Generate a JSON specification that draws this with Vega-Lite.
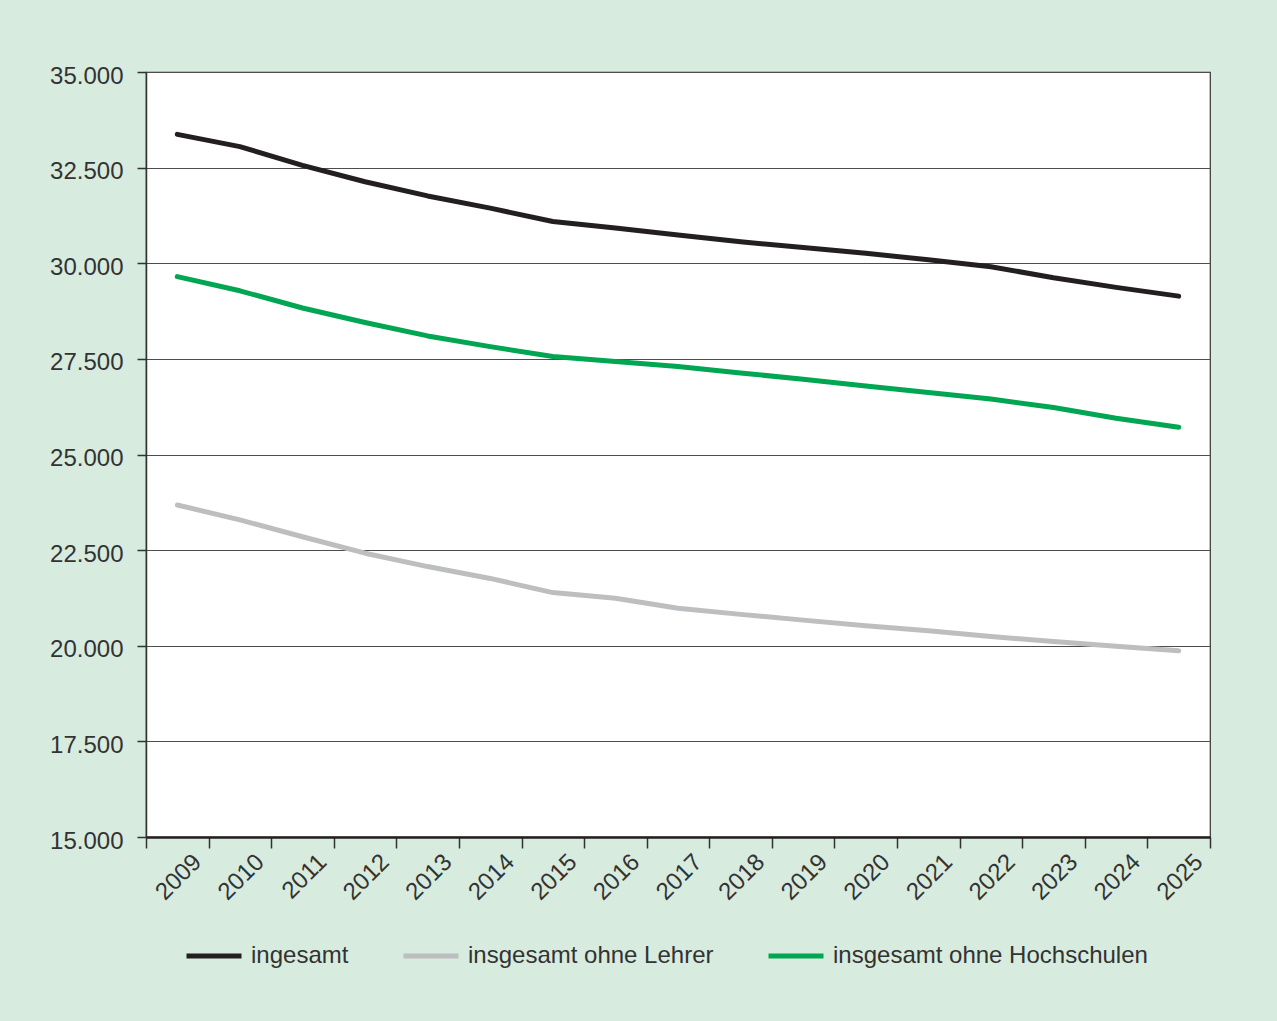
{
  "$schema": "https://vega.github.io/schema/vega-lite/v6.json",
  "width": 1064,
  "height": 765,
  "autosize": {"type": "none"},
  "padding": {"left": 146, "top": 72, "right": 67, "bottom": 184},
  "background": "#d8ebdf",
  "config": {
    "locale": {"number": {"decimal": ",", "thousands": ".", "grouping": [3], "currency": ["", " €"]}},
    "font": "Liberation Sans",
    "view": {"fill": "white", "stroke": "#333333", "strokeWidth": 1.2}
  },
  "data": {
    "values": [
      {"Jahr": "2009", "Reihe": "ingesamt", "Wert": 33370},
      {"Jahr": "2010", "Reihe": "ingesamt", "Wert": 33050},
      {"Jahr": "2011", "Reihe": "ingesamt", "Wert": 32560},
      {"Jahr": "2012", "Reihe": "ingesamt", "Wert": 32130},
      {"Jahr": "2013", "Reihe": "ingesamt", "Wert": 31760},
      {"Jahr": "2014", "Reihe": "ingesamt", "Wert": 31440},
      {"Jahr": "2015", "Reihe": "ingesamt", "Wert": 31090},
      {"Jahr": "2016", "Reihe": "ingesamt", "Wert": 30920},
      {"Jahr": "2017", "Reihe": "ingesamt", "Wert": 30740},
      {"Jahr": "2018", "Reihe": "ingesamt", "Wert": 30560},
      {"Jahr": "2019", "Reihe": "ingesamt", "Wert": 30410},
      {"Jahr": "2020", "Reihe": "ingesamt", "Wert": 30260},
      {"Jahr": "2021", "Reihe": "ingesamt", "Wert": 30090},
      {"Jahr": "2022", "Reihe": "ingesamt", "Wert": 29910},
      {"Jahr": "2023", "Reihe": "ingesamt", "Wert": 29620},
      {"Jahr": "2024", "Reihe": "ingesamt", "Wert": 29370},
      {"Jahr": "2025", "Reihe": "ingesamt", "Wert": 29140},
      {"Jahr": "2009", "Reihe": "insgesamt ohne Lehrer", "Wert": 23680},
      {"Jahr": "2010", "Reihe": "insgesamt ohne Lehrer", "Wert": 23290},
      {"Jahr": "2011", "Reihe": "insgesamt ohne Lehrer", "Wert": 22850},
      {"Jahr": "2012", "Reihe": "insgesamt ohne Lehrer", "Wert": 22420},
      {"Jahr": "2013", "Reihe": "insgesamt ohne Lehrer", "Wert": 22070},
      {"Jahr": "2014", "Reihe": "insgesamt ohne Lehrer", "Wert": 21760},
      {"Jahr": "2015", "Reihe": "insgesamt ohne Lehrer", "Wert": 21390},
      {"Jahr": "2016", "Reihe": "insgesamt ohne Lehrer", "Wert": 21240},
      {"Jahr": "2017", "Reihe": "insgesamt ohne Lehrer", "Wert": 20980},
      {"Jahr": "2018", "Reihe": "insgesamt ohne Lehrer", "Wert": 20820},
      {"Jahr": "2019", "Reihe": "insgesamt ohne Lehrer", "Wert": 20670},
      {"Jahr": "2020", "Reihe": "insgesamt ohne Lehrer", "Wert": 20520},
      {"Jahr": "2021", "Reihe": "insgesamt ohne Lehrer", "Wert": 20390},
      {"Jahr": "2022", "Reihe": "insgesamt ohne Lehrer", "Wert": 20240},
      {"Jahr": "2023", "Reihe": "insgesamt ohne Lehrer", "Wert": 20110},
      {"Jahr": "2024", "Reihe": "insgesamt ohne Lehrer", "Wert": 19990},
      {"Jahr": "2025", "Reihe": "insgesamt ohne Lehrer", "Wert": 19870},
      {"Jahr": "2009", "Reihe": "insgesamt ohne Hochschulen", "Wert": 29650},
      {"Jahr": "2010", "Reihe": "insgesamt ohne Hochschulen", "Wert": 29280},
      {"Jahr": "2011", "Reihe": "insgesamt ohne Hochschulen", "Wert": 28830},
      {"Jahr": "2012", "Reihe": "insgesamt ohne Hochschulen", "Wert": 28450},
      {"Jahr": "2013", "Reihe": "insgesamt ohne Hochschulen", "Wert": 28100},
      {"Jahr": "2014", "Reihe": "insgesamt ohne Hochschulen", "Wert": 27820},
      {"Jahr": "2015", "Reihe": "insgesamt ohne Hochschulen", "Wert": 27560},
      {"Jahr": "2016", "Reihe": "insgesamt ohne Hochschulen", "Wert": 27430},
      {"Jahr": "2017", "Reihe": "insgesamt ohne Hochschulen", "Wert": 27300},
      {"Jahr": "2018", "Reihe": "insgesamt ohne Hochschulen", "Wert": 27130},
      {"Jahr": "2019", "Reihe": "insgesamt ohne Hochschulen", "Wert": 26970},
      {"Jahr": "2020", "Reihe": "insgesamt ohne Hochschulen", "Wert": 26790},
      {"Jahr": "2021", "Reihe": "insgesamt ohne Hochschulen", "Wert": 26620},
      {"Jahr": "2022", "Reihe": "insgesamt ohne Hochschulen", "Wert": 26450},
      {"Jahr": "2023", "Reihe": "insgesamt ohne Hochschulen", "Wert": 26230},
      {"Jahr": "2024", "Reihe": "insgesamt ohne Hochschulen", "Wert": 25950},
      {"Jahr": "2025", "Reihe": "insgesamt ohne Hochschulen", "Wert": 25710}
    ]
  },
  "mark": {"type": "line", "strokeWidth": 5, "strokeCap": "round", "strokeJoin": "round"},
  "encoding": {
    "x": {
      "field": "Jahr",
      "type": "ordinal",
      "bandPosition": 0.5,
      "scale": {"type": "band", "paddingInner": 0, "paddingOuter": 0},
      "axis": {
        "title": null,
        "tickBand": "extent",
        "grid": false,
        "domainColor": "#231f20",
        "domainWidth": 2.5,
        "tickColor": "#333333",
        "tickWidth": 1.5,
        "tickSize": 11,
        "labelAngle": -45,
        "labelAlign": "right",
        "labelBaseline": "middle",
        "labelOffset": 20,
        "labelPadding": 10,
        "labelFontSize": 24,
        "labelColor": "#333333"
      }
    },
    "y": {
      "field": "Wert",
      "type": "quantitative",
      "scale": {"domain": [15000, 35000], "nice": false, "zero": false},
      "axis": {
        "title": null,
        "values": [15000, 17500, 20000, 22500, 25000, 27500, 30000, 32500, 35000],
        "format": ",.0f",
        "grid": true,
        "gridColor": "#4d4d4d",
        "gridWidth": 1.2,
        "domainColor": "#333333",
        "domainWidth": 1.5,
        "tickColor": "#333333",
        "tickWidth": 1.5,
        "tickSize": 9,
        "labelPadding": 14,
        "labelOffset": 4,
        "labelFontSize": 24,
        "labelColor": "#333333"
      }
    },
    "color": {
      "field": "Reihe",
      "type": "nominal",
      "sort": ["ingesamt", "insgesamt ohne Lehrer", "insgesamt ohne Hochschulen"],
      "scale": {
        "domain": ["ingesamt", "insgesamt ohne Lehrer", "insgesamt ohne Hochschulen"],
        "range": ["#231f20", "#bcbec0", "#00a651"]
      },
      "legend": {
        "title": null,
        "orient": "none",
        "direction": "horizontal",
        "legendX": 38,
        "legendY": 854,
        "padding": 0,
        "symbolType": "stroke",
        "symbolSize": 3025,
        "symbolStrokeWidth": 5,
        "labelFontSize": 24,
        "labelColor": "#333333",
        "labelLimit": 500,
        "labelOffset": 7,
        "columnPadding": 44
      }
    }
  }
}
